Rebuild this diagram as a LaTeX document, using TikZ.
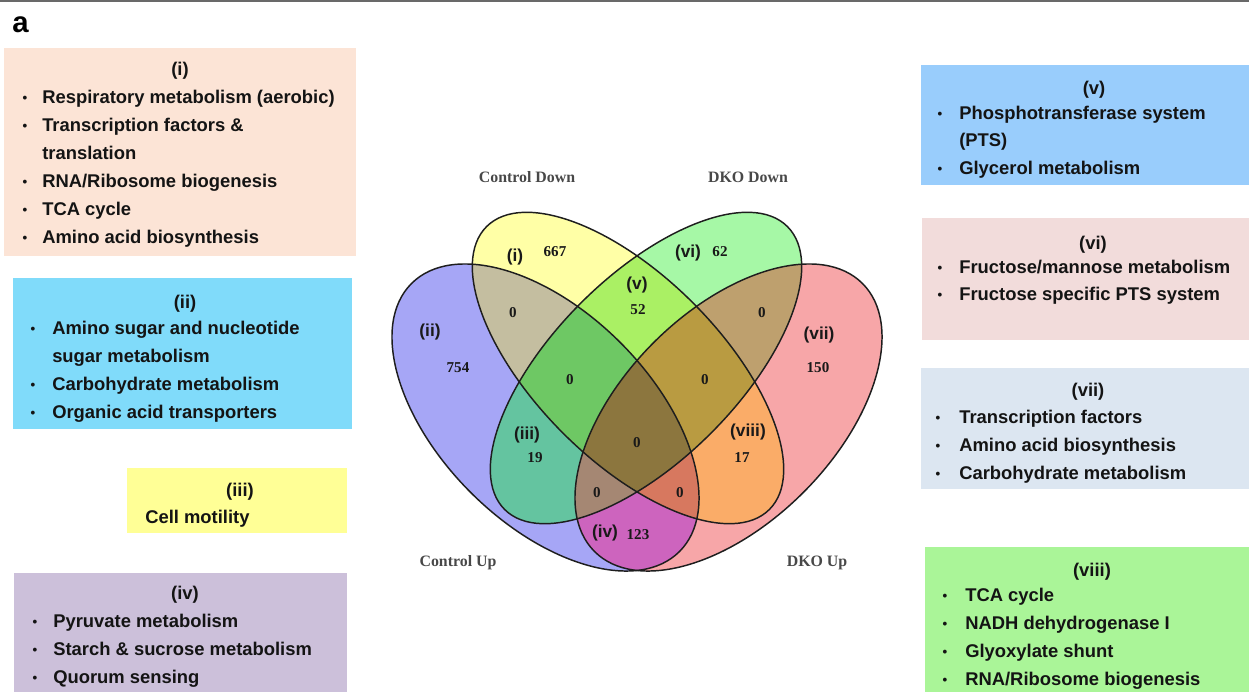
\documentclass[tikz,border=0pt]{standalone}
\usepackage{fontspec}
\newfontfamily\arialf{Liberation Sans}
\newfontfamily\timesf{Liberation Serif}
\definecolor{txt}{RGB}{20,20,20}
\definecolor{vtxt}{RGB}{25,25,25}
\definecolor{vset}{RGB}{72,72,72}
\definecolor{vedge}{RGB}{30,30,30}
\definecolor{topline}{RGB}{105,105,105}
\definecolor{bxi}{RGB}{252,228,214}
\definecolor{bxii}{RGB}{128,219,250}
\definecolor{bxiii}{RGB}{255,255,150}
\definecolor{bxiv}{RGB}{204,192,218}
\definecolor{bxv}{RGB}{153,205,252}
\definecolor{bxvi}{RGB}{242,220,219}
\definecolor{bxvii}{RGB}{220,230,241}
\definecolor{bxviii}{RGB}{170,245,152}
\definecolor{cB}{RGB}{166,166,246}
\definecolor{cY}{RGB}{255,255,166}
\definecolor{cG}{RGB}{166,248,166}
\definecolor{cR}{RGB}{247,166,168}
\definecolor{cYB}{RGB}{196,190,160}
\definecolor{cYG}{RGB}{170,240,100}
\definecolor{cGR}{RGB}{190,160,110}
\definecolor{cBG}{RGB}{100,196,160}
\definecolor{cYR}{RGB}{250,172,104}
\definecolor{cBR}{RGB}{205,100,190}
\definecolor{cBYG}{RGB}{110,200,100}
\definecolor{cYGR}{RGB}{185,155,65}
\definecolor{cBGR}{RGB}{165,135,115}
\definecolor{cBYR}{RGB}{215,120,95}
\definecolor{cAll}{RGB}{140,118,62}
\newcommand\clipEB{\clip[shift={(545.5,417.5)},rotate=-45] (0,0) ellipse [x radius=189.5,y radius=105.9];}
\newcommand\clipER{\clip[shift={(728.5,417.5)},rotate=45] (0,0) ellipse [x radius=189.5,y radius=105.9];}
\newcommand\clipEY{\clip[shift={(628,368)},rotate=-45] (0,0) ellipse [x radius=200,y radius=92];}
\newcommand\clipEG{\clip[shift={(646,368)},rotate=45] (0,0) ellipse [x radius=200,y radius=92];}
\newcommand\paintall[1]{\fill[#1] (300,100) rectangle (950,650);}
\begin{document}
\begin{tikzpicture}[x=0.75pt,y=-0.75pt,
  bx/.style={font=\arialf\bfseries\fontsize{13.8}{16}\selectfont, inner sep=0, anchor=base west, text=txt},
  hd/.style={bx, anchor=base},
  bu/.style={font=\arialf\bfseries\fontsize{10}{12}\selectfont, inner sep=0, anchor=base, text=txt, yshift=1pt},
  vr/.style={font=\arialf\bfseries\fontsize{13}{15}\selectfont, inner sep=0, text=vtxt},
  vn/.style={font=\timesf\bfseries\fontsize{11.3}{13}\selectfont, inner sep=0, text=vtxt},
  vs/.style={font=\timesf\bfseries\fontsize{11.9}{14}\selectfont, inner sep=0, text=vset},
  vline/.style={draw=vedge, line width=1.1pt}]
\useasboundingbox (0,0) rectangle (1249,692);
\fill[white] (0,0) rectangle (1249,692);
\fill[topline] (0,0) rectangle (1249,2.5);
\node[font=\arialf\bfseries\fontsize{22}{24}\selectfont, inner sep=0, anchor=base west] (lab) at (12,33) {a};

% ---------- boxes left
\fill[bxi] (4,48) rectangle (356,256);
\node[hd] (h1) at (180,76) {(i)};
\node[bu] (b1a) at (25,103.5) {•}; \node[bx] (t1a) at (42,103.5) {Respiratory metabolism (aerobic)};
\node[bu] (b1b) at (25,131.5) {•}; \node[bx] (t1b) at (42,131.5) {Transcription factors \&};
\node[bx] (t1c) at (42,159.5) {translation};
\node[bu] (b1d) at (25,187.5) {•}; \node[bx] (t1d) at (42,187.5) {RNA/Ribosome biogenesis};
\node[bu] (b1e) at (25,215.5) {•}; \node[bx] (t1e) at (42,215.5) {TCA cycle};
\node[bu] (b1f) at (25,243.5) {•}; \node[bx] (t1f) at (42,243.5) {Amino acid biosynthesis};

\fill[bxii] (13,278) rectangle (352,429);
\node[hd] (h2) at (185,308) {(ii)};
\node[bu] (b2a) at (33,334.5) {•}; \node[bx] (t2a) at (52,334.5) {Amino sugar and nucleotide};
\node[bx] (t2b) at (52,362.5) {sugar metabolism};
\node[bu] (b2c) at (33,390.5) {•}; \node[bx] (t2c) at (52,390.5) {Carbohydrate metabolism};
\node[bu] (b2d) at (33,418.5) {•}; \node[bx] (t2d) at (52,418.5) {Organic acid transporters};

\fill[bxiii] (127,468) rectangle (347,533);
\node[hd] (h3) at (240,496) {(iii)};
\node[bx] (t3a) at (145,523.5) {Cell motility};

\fill[bxiv] (14,573) rectangle (347,692);
\node[hd] (h4) at (185,599) {(iv)};
\node[bu] (b4a) at (35,627.5) {•}; \node[bx] (t4a) at (53,627.5) {Pyruvate metabolism};
\node[bu] (b4b) at (35,655.5) {•}; \node[bx] (t4b) at (53,655.5) {Starch \& sucrose metabolism};
\node[bu] (b4c) at (35,683.5) {•}; \node[bx] (t4c) at (53,683.5) {Quorum sensing};

% ---------- boxes right
\fill[bxv] (921,65) rectangle (1249,185);
\node[hd] (h5) at (1094,94) {(v)};
\node[bu] (b5a) at (940,119.5) {•}; \node[bx] (t5a) at (959,119.5) {Phosphotransferase system};
\node[bx] (t5b) at (959,146.5) {(PTS)};
\node[bu] (b5c) at (940,174.5) {•}; \node[bx] (t5c) at (959,174.5) {Glycerol metabolism};

\fill[bxvi] (922,218) rectangle (1249,340);
\node[hd] (h6) at (1093,249) {(vi)};
\node[bu] (b6a) at (940,273.5) {•}; \node[bx] (t6a) at (959,273.5) {Fructose/mannose metabolism};
\node[bu] (b6b) at (940,300.5) {•}; \node[bx] (t6b) at (959,300.5) {Fructose specific PTS system};

\fill[bxvii] (921,368) rectangle (1249,489);
\node[hd] (h7) at (1088,396) {(vii)};
\node[bu] (b7a) at (938,423.5) {•}; \node[bx] (t7a) at (959,423.5) {Transcription factors};
\node[bu] (b7b) at (938,451.5) {•}; \node[bx] (t7b) at (959,451.5) {Amino acid biosynthesis};
\node[bu] (b7c) at (938,479.5) {•}; \node[bx] (t7c) at (959,479.5) {Carbohydrate metabolism};

\fill[bxviii] (925,547) rectangle (1249,692);
\node[hd] (h8) at (1092,576) {(viii)};
\node[bu] (b8a) at (945,601.5) {•}; \node[bx] (t8a) at (965,601.5) {TCA cycle};
\node[bu] (b8b) at (945,629.5) {•}; \node[bx] (t8b) at (965,629.5) {NADH dehydrogenase I};
\node[bu] (b8c) at (945,657.5) {•}; \node[bx] (t8c) at (965,657.5) {Glyoxylate shunt};
\node[bu] (b8d) at (945,685.5) {•}; \node[bx] (t8d) at (965,685.5) {RNA/Ribosome biogenesis};

% ---------- Venn regions
\begin{scope}\clipEB\paintall{cB}\end{scope}
\begin{scope}\clipEY\paintall{cY}\end{scope}
\begin{scope}\clipEG\paintall{cG}\end{scope}
\begin{scope}\clipER\paintall{cR}\end{scope}
\begin{scope}\clipEB\clipEY\paintall{cYB}\end{scope}
\begin{scope}\clipEY\clipEG\paintall{cYG}\end{scope}
\begin{scope}\clipEG\clipER\paintall{cGR}\end{scope}
\begin{scope}\clipEB\clipEG\paintall{cBG}\end{scope}
\begin{scope}\clipEY\clipER\paintall{cYR}\end{scope}
\begin{scope}\clipEB\clipER\paintall{cBR}\end{scope}
\begin{scope}\clipEB\clipEY\clipEG\paintall{cBYG}\end{scope}
\begin{scope}\clipEY\clipEG\clipER\paintall{cYGR}\end{scope}
\begin{scope}\clipEB\clipEG\clipER\paintall{cBGR}\end{scope}
\begin{scope}\clipEB\clipEY\clipER\paintall{cBYR}\end{scope}
\begin{scope}\clipEB\clipEY\clipEG\clipER\paintall{cAll}\end{scope}
\draw[vline,shift={(545.5,417.5)},rotate=-45] (0,0) ellipse [x radius=189.5,y radius=105.9];
\draw[vline,shift={(728.5,417.5)},rotate=45] (0,0) ellipse [x radius=189.5,y radius=105.9];
\draw[vline,shift={(628,368)},rotate=-45] (0,0) ellipse [x radius=200,y radius=92];
\draw[vline,shift={(646,368)},rotate=45] (0,0) ellipse [x radius=200,y radius=92];

% ---------- Venn labels
\node[vs] (sCD) at (527,177) {Control Down};
\node[vs] (sDD) at (748,177) {DKO Down};
\node[vs] (sCU) at (458,563) {Control Up};
\node[vs] (sDU) at (817,563) {DKO Up};
\node[vr] (ri) at (515,257) {(i)};
\node[vr] (rvi) at (688,253) {(vi)};
\node[vr] (rv) at (637,285) {(v)};
\node[vr] (rii) at (430,332) {(ii)};
\node[vr] (rvii) at (819,335) {(vii)};
\node[vr] (riii) at (527,435) {(iii)};
\node[vr] (rviii) at (748,432) {(viii)};
\node[vr] (riv) at (605,533) {(iv)};
\node[vn] (n1) at (555,252) {667};
\node[vn] (n2) at (720,252) {62};
\node[vn] (n3) at (638,310) {52};
\node[vn] (n4) at (513,313) {0};
\node[vn] (n5) at (458,368) {754};
\node[vn] (n6) at (570,380) {0};
\node[vn] (n7) at (705,380) {0};
\node[vn] (n8) at (762,313) {0};
\node[vn] (n9) at (818,368) {150};
\node[vn] (n10) at (535,458) {19};
\node[vn] (n11) at (637,443) {0};
\node[vn] (n12) at (742,458) {17};
\node[vn] (n13) at (597,493) {0};
\node[vn] (n14) at (680,493) {0};
\node[vn] (n15) at (638,535) {123};
\end{tikzpicture}
\end{document}
